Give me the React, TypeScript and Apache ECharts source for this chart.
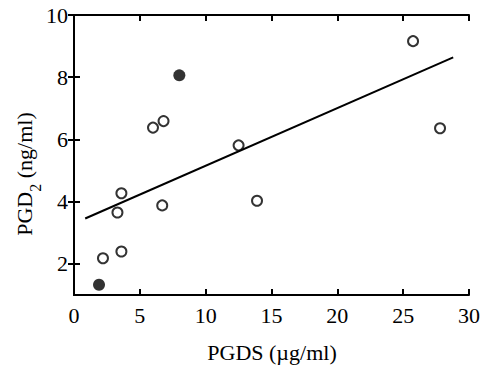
import React, { useEffect, useRef } from "react";
import * as echarts from "echarts";

const openPoints: number[][] = [
  [2.2, 2.18], [3.6, 2.4], [3.3, 3.65], [3.6, 4.27], [6.7, 3.88],
  [6.0, 6.38], [6.8, 6.59], [12.5, 5.81], [13.9, 4.03], [25.75, 9.16], [27.8, 6.36],
];
const filledPoints: number[][] = [[1.9, 1.33], [8.0, 8.06]];
const fitLine: number[][] = [[0.85, 3.46], [28.8, 8.64]];
const yTicks = [2, 4, 6, 8, 10];
const xTitle = "PGDS (\u00b5g/ml)";

const FONT = '"Liberation Serif"';

export default function App() {
  const ref = useRef<HTMLDivElement>(null);
  useEffect(() => {
    if (!ref.current) return;
    const chart = echarts.init(ref.current, null, { renderer: "svg" });
    const axisLine = { show: true, lineStyle: { color: "#000", width: 2 } };
    const tick = { show: true, inside: true, length: 6, lineStyle: { color: "#000", width: 2 } };
    const label = {
      color: "#000", fontFamily: FONT, fontSize: 22,
      formatter: (v: number) => `{t|${v}}`,
      rich: { t: { fontFamily: FONT, fontSize: 22, color: "#000" } },
    };
    chart.setOption({
      animation: false,
      backgroundColor: "#fff",
      textStyle: { fontFamily: FONT, color: "#000" },
      grid: { left: 74, right: 14, top: 15, bottom: 71 },
      xAxis: [
        {
          type: "value", min: 0, max: 30, interval: 5, position: "bottom",
          axisLine, axisTick: tick, splitLine: { show: false },
          axisLabel: { ...label, margin: 9 },
        },
        {
          type: "value", min: 0, max: 30, interval: 5, position: "top",
          axisLine, axisTick: tick, splitLine: { show: false }, axisLabel: { show: false },
        },
      ],
      yAxis: [
        {
          type: "value", min: 1, max: 10, position: "left",
          axisLine, splitLine: { show: false },
          axisTick: { ...tick, customValues: yTicks },
          axisLabel: { ...label, margin: 6, customValues: yTicks },
        },
        {
          type: "value", min: 1, max: 10, position: "right",
          axisLine, splitLine: { show: false },
          axisTick: { ...tick, customValues: yTicks },
          axisLabel: { show: false, customValues: yTicks },
        },
      ],
      graphic: [
        {
          type: "text", x: 272, y: 352,
          style: { text: xTitle, fill: "#000", font: `22px ${FONT}`, align: "center", verticalAlign: "middle" },
        },
        {
          type: "text", x: 28, y: 174, rotation: Math.PI / 2,
          style: {
            text: "{a|PGD}{s|2}{a| (ng/ml)}",
            fill: "#000", align: "center", verticalAlign: "middle",
            rich: {
              a: { fontFamily: FONT, fontSize: 22, lineHeight: 24, verticalAlign: "top", fill: "#000" },
              s: { fontFamily: FONT, fontSize: 16, lineHeight: 30, verticalAlign: "bottom", fill: "#000" },
            },
          },
        },
      ],
      series: [
        {
          type: "line", data: fitLine, symbol: "none", silent: true,
          lineStyle: { color: "#000", width: 2 },
        },
        {
          type: "scatter", data: openPoints, symbol: "circle", symbolSize: 10,
          itemStyle: { color: "#fff", borderColor: "#000", borderWidth: 2 },
        },
        {
          type: "scatter", data: filledPoints, symbol: "circle", symbolSize: 12,
          itemStyle: { color: "#000" },
        },
      ],
    });
    return () => chart.dispose();
  }, []);
  return <div ref={ref} style={{ width: 483, height: 366, position: "absolute", left: 0, top: 0 }} />;
}
